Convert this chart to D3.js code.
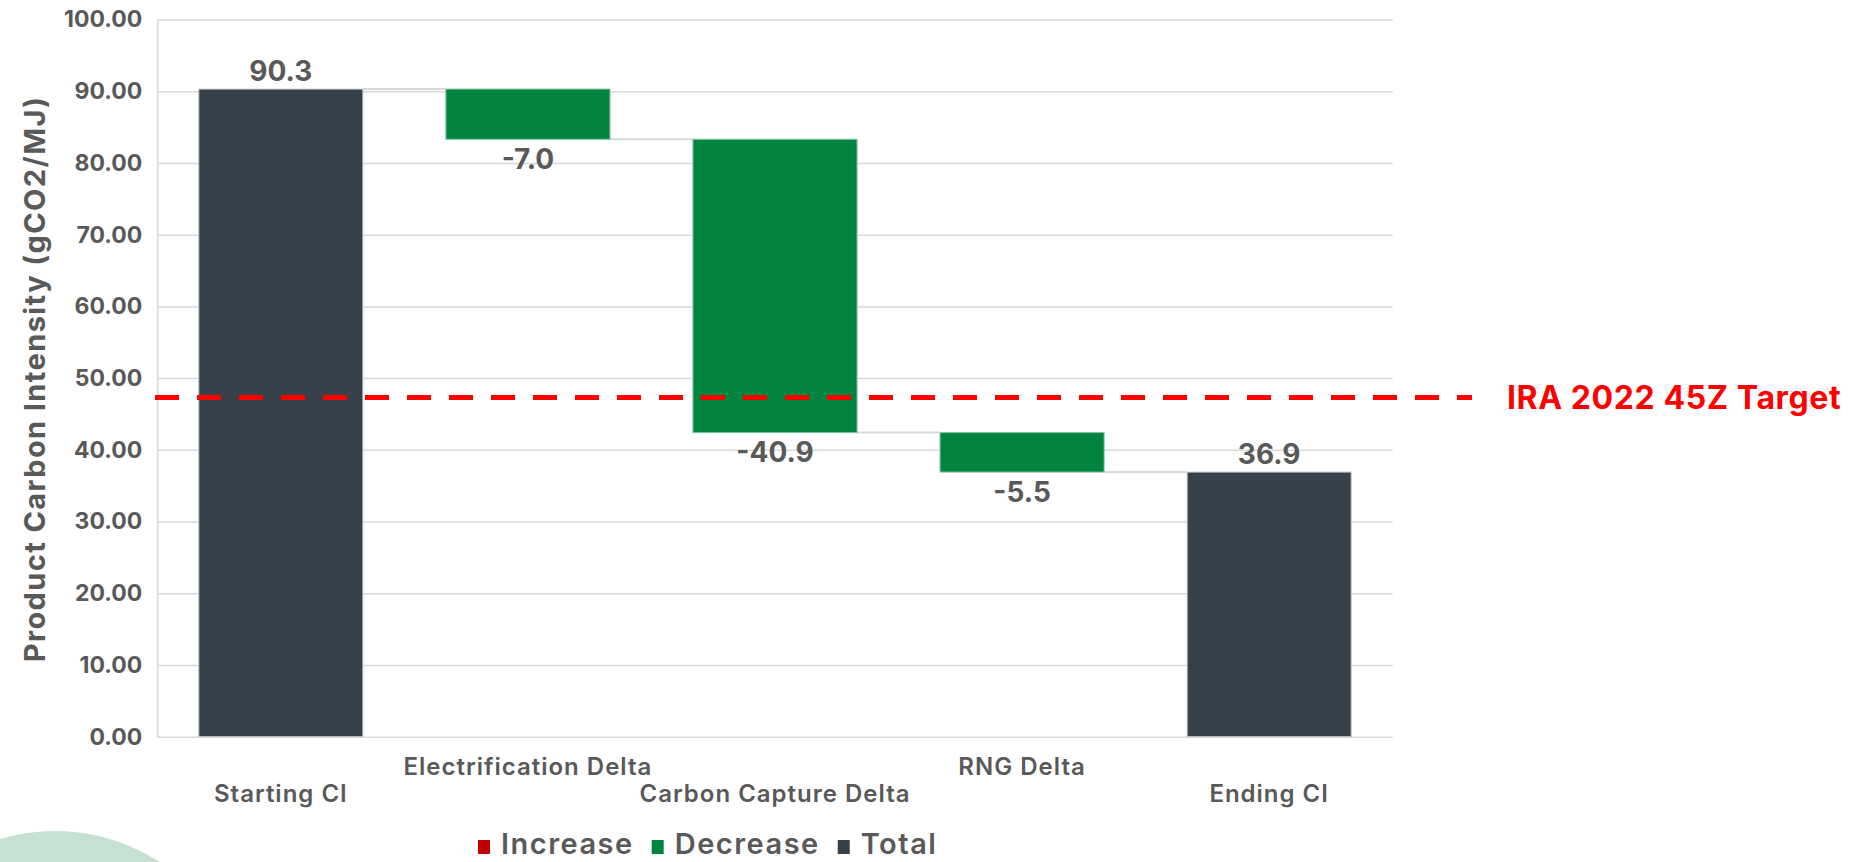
<!DOCTYPE html>
<html lang="en">
<head>
<meta charset="utf-8">
<script src="https://d3js.org/d3.v7.min.js"></script>
<style>
    body { margin: 0; background: #fff; overflow: hidden; }
    text { font-family: Inter, "Open Sans", sans-serif; }
</style>
</head>
<body>
<div id="chart"></div>
<script>
    // waterfall steps
    var categories = ["Starting CI", "Electrification Delta", "Carbon Capture Delta", "RNG Delta", "Ending CI"];
    var values = [90.3, -7.0, -40.9, -5.5, 36.9];
    var kinds = ["total", "delta", "delta", "delta", "total"];

    var yTicks = [0, 10, 20, 30, 40, 50, 60, 70, 80, 90, 100];
    var yTitle = "Product Carbon Intensity (gCO2/MJ)";

    var targetValue = 47.3;
    var targetLabel = "IRA 2022 45Z Target";

    var legendKeys = ["Increase", "Decrease", "Total"];
    var legendColors = ["#c00000", "#00843f", "#37414a"];

    var width = 1872,
        height = 862,
        margin = { top: 19.5, right: 479.3, bottom: 125.3, left: 157.3 };

    var textGray = "#595959",
        gridGray = "#d9d9d9";

    // running levels for each step
    var level = 0;
    var steps = categories.map(function(c, i) {
        var s;
        if (kinds[i] === "total") {
            s = { name: c, start: 0, end: values[i] };
        } else {
            s = { name: c, start: level, end: level + values[i] };
        }
        level = s.end;
        s.value = values[i];
        s.kind = kinds[i];
        s.index = i;
        return s;
    });

    var x = d3.scaleBand()
        .domain(categories)
        .range([margin.left, width - margin.right])
        .paddingInner(0.336)
        .paddingOuter(0.168);

    var y = d3.scaleLinear()
        .domain([0, 100])
        .range([height - margin.bottom, margin.top]);

    var svg = d3.select("#chart").append("svg")
        .attr("width", width)
        .attr("height", height);

    // decorative circle bottom-left of the slide
    svg.append("circle")
        .attr("cx", 55)
        .attr("cy", 1024)
        .attr("r", 193)
        .attr("fill", "#c6e1d2");

    // y axis with gridlines
    var yAxis = svg.append("g")
        .attr("transform", `translate(${margin.left},0)`)
        .call(d3.axisLeft(y)
            .tickValues(yTicks)
            .tickFormat(d3.format(".2f"))
            .tickSize(-(width - margin.right - margin.left))
            .tickSizeOuter(0)
            .tickPadding(15));

    yAxis.select(".domain").attr("stroke", gridGray).attr("stroke-width", 1.5);
    yAxis.selectAll(".tick line").attr("stroke", gridGray).attr("stroke-width", 1.5);
    yAxis.selectAll(".tick text")
        .attr("fill", textGray)
        .attr("font-size", 23)
        .attr("font-weight", 700)
        .attr("font-family", "Inter, sans-serif");

    svg.append("text")
        .attr("transform", `translate(45,${(95 + 663) / 2}) rotate(-90)`)
        .attr("text-anchor", "middle")
        .attr("fill", textGray)
        .attr("font-size", 29)
        .attr("font-weight", 700)
        .attr("letter-spacing", 1.4)
        .text(yTitle);

    // connectors between bars
    svg.append("g")
        .selectAll("line")
        .data(steps.slice(0, -1))
        .enter()
        .append("line")
        .attr("x1", d => x(d.name) + x.bandwidth())
        .attr("x2", d => x(categories[d.index + 1]))
        .attr("y1", d => y(d.end))
        .attr("y2", d => y(d.end))
        .attr("stroke", gridGray)
        .attr("stroke-width", 2);

    // bars
    svg.append("g")
        .selectAll("rect")
        .data(steps)
        .enter()
        .append("rect")
        .attr("x", d => x(d.name))
        .attr("width", x.bandwidth())
        .attr("y", d => y(Math.max(d.start, d.end)))
        .attr("height", d => Math.abs(y(d.start) - y(d.end)))
        .attr("fill", d => d.kind === "total" ? legendColors[2] : (d.value < 0 ? legendColors[1] : legendColors[0]))
        .attr("stroke", d => d.kind === "total" ? "#c8ccd0" : "#7fc29f")
        .attr("stroke-width", 1);

    // value labels
    svg.append("g")
        .selectAll("text")
        .data(steps)
        .enter()
        .append("text")
        .attr("x", d => x(d.name) + x.bandwidth() / 2)
        .attr("y", d => d.kind === "total" ? y(d.end) - 8 : y(Math.min(d.start, d.end)) + 29.5)
        .attr("text-anchor", "middle")
        .attr("fill", textGray)
        .attr("font-size", 28)
        .attr("font-weight", 700)
        .text(d => d.value.toFixed(1));

    // category labels, staggered on two rows
    svg.append("g")
        .selectAll("text")
        .data(categories)
        .enter()
        .append("text")
        .attr("x", d => x(d) + x.bandwidth() / 2)
        .attr("y", (d, i) => i % 2 === 0 ? 802 : 775)
        .attr("text-anchor", "middle")
        .attr("fill", textGray)
        .attr("font-size", 24)
        .attr("font-weight", 600)
        .attr("letter-spacing", 1)
        .text(d => d);

    // target line
    svg.append("line")
        .attr("x1", 155)
        .attr("x2", 1472)
        .attr("y1", y(targetValue))
        .attr("y2", y(targetValue))
        .attr("stroke", "#ff0000")
        .attr("stroke-width", 5)
        .attr("stroke-dasharray", "24 18");

    svg.append("text")
        .attr("x", 1507)
        .attr("y", y(targetValue))
        .attr("dy", "0.36em")
        .attr("fill", "#ff0000")
        .attr("font-size", 32)
        .attr("font-weight", 700)
        .attr("letter-spacing", 0.6)
        .text(targetLabel);

    // legend
    var legend = svg.append("g");
    var lx = 478;
    legendKeys.forEach(function(k, i) {
        legend.append("rect")
            .attr("x", lx)
            .attr("y", 840)
            .attr("width", 12)
            .attr("height", 14)
            .attr("fill", legendColors[i]);
        var t = legend.append("text")
            .attr("x", lx + 23)
            .attr("y", 854)
            .attr("fill", textGray)
            .attr("font-size", 29)
            .attr("font-weight", 600)
            .attr("letter-spacing", 1.5)
            .text(k);
        lx += 23 + t.node().getComputedTextLength() + 18;
    });
</script>
</body>
</html>
